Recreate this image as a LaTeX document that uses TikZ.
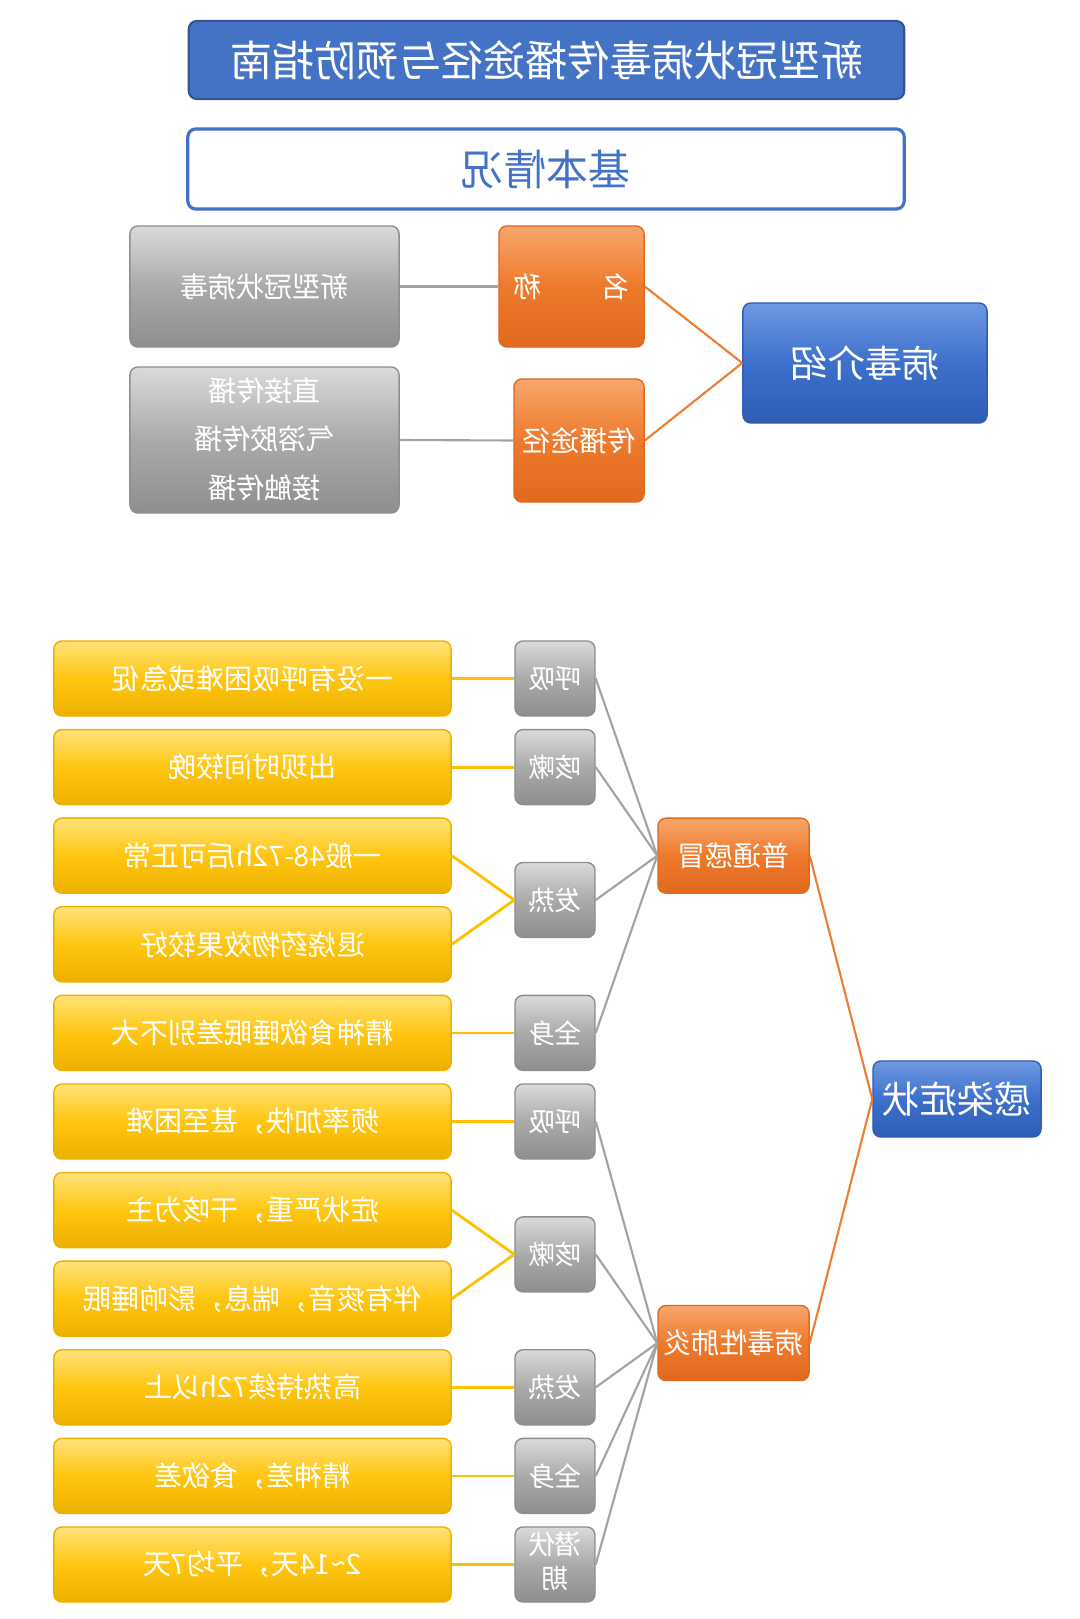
\documentclass[tikz,border=0pt]{standalone}
\usepackage{fontspec}
\setmainfont{Noto Sans CJK SC}
\usepackage{graphicx}
\newcommand\mr[1]{\reflectbox{#1}}
\definecolor{tblue}{HTML}{4472C4}
\definecolor{tbluedk}{HTML}{2F5597}
\definecolor{bL}{HTML}{6F98E2}
\definecolor{bM}{HTML}{3D70CC}
\definecolor{bD}{HTML}{2E5DB5}
\definecolor{yL}{HTML}{FFE27A}
\definecolor{yM}{HTML}{FFC610}
\definecolor{yD}{HTML}{EDB000}
\definecolor{gL}{HTML}{DADADA}
\definecolor{gM}{HTML}{AAAAAA}
\definecolor{gD}{HTML}{8E8E8E}
\definecolor{oL}{HTML}{F8A66C}
\definecolor{oM}{HTML}{EE7A2C}
\definecolor{oD}{HTML}{E0691E}
\definecolor{lgray}{HTML}{A3A3A3}
\definecolor{lorange}{HTML}{ED7D31}
\definecolor{lyellow}{HTML}{FFC000}
\begin{document}
\begin{tikzpicture}[x=0.01cm,y=-0.01cm,
  base/.style={rounded corners=0.08cm, inner sep=0pt, align=center, text=white},
  ybox/.style={base, minimum width=3.97cm, minimum height=0.75cm, top color=yL, bottom color=yD, middle color=yM, draw=yD, line width=0.4pt, font=\fontsize{8}{9.6}\selectfont},
  gbox/.style={base, top color=gL, bottom color=gD, middle color=gM, draw=gD, line width=0.4pt, font=\fontsize{8}{9.6}\selectfont},
  sbox/.style={gbox, minimum width=0.80cm, minimum height=0.75cm, font=\fontsize{7.6}{9.6}\selectfont},
  obox/.style={base, top color=oL, bottom color=oD, middle color=oM, draw=oD, line width=0.4pt, font=\fontsize{8}{9.6}\selectfont},
  bbox/.style={base, top color=bL, bottom color=bD, middle color=bM, draw=bD, line width=0.4pt, font=\fontsize{10.6}{12}\selectfont},
  gline/.style={draw=lgray, line width=0.6pt},
  oline/.style={draw=lorange, line width=0.6pt},
  yline/.style={draw=lyellow, line width=0.8pt}
]
\useasboundingbox[fill=white] (0,0) rectangle (1080,1619);

% header
\node[base, fill=tblue, draw=tbluedk, line width=0.6pt, minimum width=7.15cm, minimum height=0.78cm, font=\fontsize{12}{14}\selectfont] (title) at (546.5,60) {\mr{新型冠状病毒传播途径与预防指南}};
\node[base, fill=white, draw=tblue, line width=0.9pt, text=tblue, minimum width=7.16cm, minimum height=0.80cm, font=\fontsize{12}{14}\selectfont] (basic) at (546,169) {\mr{基本情况}};

% virus introduction
\node[gbox, minimum width=2.69cm, minimum height=1.21cm] (g1) at (264.5,286.5) {\mr{新型冠状病毒}};
\node[gbox, minimum width=2.69cm, minimum height=1.46cm] (g2) at (264.5,440) {\mr{\fontsize{8}{13.8}\selectfont\begin{tabular}{@{}c@{}}直接传播\\气溶胶传播\\接触传播\end{tabular}}};
\node[obox, minimum width=1.45cm, minimum height=1.21cm] (o1) at (571.5,286.5) {\mr{名\hspace{17pt}称}};
\node[obox, minimum width=1.30cm, minimum height=1.23cm] (o2) at (579,440.5) {\mr{传播途径}};
\node[bbox, minimum width=2.44cm, minimum height=1.20cm] (b1) at (865,363) {\mr{病毒介绍}};
\draw[gline] (g1.east) -- (o1.west);
\draw[gline] (g2.east) -- (o2.west);
\draw[oline] (o1.east) -- (b1.west);
\draw[oline] (o2.east) -- (b1.west);

% symptoms: yellow detail boxes
\node[ybox] (y1) at (252.5,678.5) {\mr{一没有呼吸困难或急促}};
\node[ybox] (y2) at (252.5,767.1) {\mr{出现时间较晚}};
\node[ybox] (y3) at (252.5,855.7) {\mr{一般48-72h后可正常}};
\node[ybox] (y4) at (252.5,944.3) {\mr{退烧药物效果较好}};
\node[ybox] (y5) at (252.5,1032.9) {\mr{精神食欲睡眠差别不大}};
\node[ybox] (y6) at (252.5,1121.5) {\mr{频率加快，甚至困难}};
\node[ybox] (y7) at (252.5,1210.1) {\mr{症状严重，干咳为主}};
\node[ybox] (y8) at (252.5,1298.7) {\mr{伴有痰音，喘息，影响睡眠}};
\node[ybox] (y9) at (252.5,1387.3) {\mr{高热持续72h以上}};
\node[ybox] (y10) at (252.5,1475.9) {\mr{精神差，食欲差}};
\node[ybox] (y11) at (252.5,1564.5) {\mr{2\textasciitilde14天，平均7天}};

% gray symptom boxes
\node[sbox] (s1) at (555,678.5) {\mr{呼吸}};
\node[sbox] (s2) at (555,767.1) {\mr{咳嗽}};
\node[sbox] (s3) at (555,900) {\mr{发热}};
\node[sbox] (s4) at (555,1032.9) {\mr{全身}};
\node[sbox] (s5) at (555,1121.5) {\mr{呼吸}};
\node[sbox] (s6) at (555,1254.4) {\mr{咳嗽}};
\node[sbox] (s7) at (555,1387.3) {\mr{发热}};
\node[sbox] (s8) at (555,1475.9) {\mr{全身}};
\node[sbox] (s9) at (555,1564.5) {\mr{\fontsize{7.6}{9.7}\selectfont\begin{tabular}{@{}c@{}}潜伏\\期\end{tabular}}};

% categories
\node[obox, minimum width=1.51cm, minimum height=0.75cm] (p1) at (733.5,855.7) {\mr{普通感冒}};
\node[obox, minimum width=1.51cm, minimum height=0.75cm] (p2) at (733.5,1343) {\mr{病毒性肺炎}};
\node[bbox, minimum width=1.68cm, minimum height=0.76cm] (c) at (957,1099) {\mr{感染症状}};

% connectors
\draw[yline] (y1.east) -- (s1.west);
\draw[yline] (y2.east) -- (s2.west);
\draw[yline] (y3.east) -- (s3.west);
\draw[yline] (y4.east) -- (s3.west);
\draw[yline] (y5.east) -- (s4.west);
\draw[yline] (y6.east) -- (s5.west);
\draw[yline] (y7.east) -- (s6.west);
\draw[yline] (y8.east) -- (s6.west);
\draw[yline] (y9.east) -- (s7.west);
\draw[yline] (y10.east) -- (s8.west);
\draw[yline] (y11.east) -- (s9.west);
\foreach \s in {s1,s2,s3,s4} \draw[gline] (\s.east) -- (p1.west);
\foreach \s in {s5,s6,s7,s8,s9} \draw[gline] (\s.east) -- (p2.west);
\draw[oline] (p1.east) -- (c.west);
\draw[oline] (p2.east) -- (c.west);
\end{tikzpicture}
\end{document}
